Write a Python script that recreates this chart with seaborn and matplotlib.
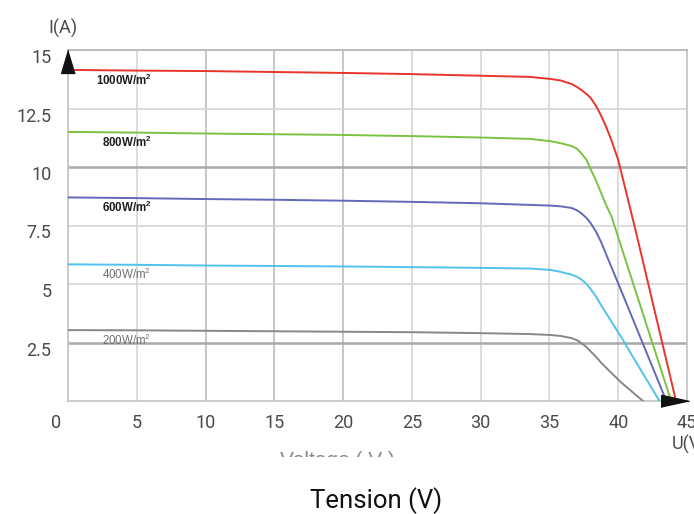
import numpy as np
import pandas as pd
import matplotlib
matplotlib.use("Agg")
import matplotlib.pyplot as plt
import matplotlib.transforms as mtransforms
import seaborn as sns

# ---- data ----
irradiance = ["1000W/m$^2$", "800W/m$^2$", "600W/m$^2$", "400W/m$^2$", "200W/m$^2$"]

v_1000 = [0, 5, 10, 15, 20, 25, 30, 33.6, 35.1, 35.8, 36.6, 37.0, 37.3, 37.7, 38.0, 38.4, 38.75, 39.1, 39.5, 40.0, 41.3, 44.2]
i_1000 = [14.15, 14.12, 14.1, 14.06, 14.02, 13.97, 13.9, 13.85, 13.76, 13.7, 13.55, 13.42, 13.3, 13.12, 12.95, 12.6, 12.2, 11.75, 11.15, 10.3, 7.2, 0]

v_800 = [0, 5, 10, 15, 20, 25, 30, 33.6, 35.1, 35.8, 36.6, 37.0, 37.3, 37.7, 38.0, 38.4, 38.75, 39.1, 39.5, 43.85]
i_800 = [11.5, 11.47, 11.43, 11.4, 11.37, 11.32, 11.26, 11.2, 11.1, 11.02, 10.9, 10.78, 10.6, 10.3, 9.9, 9.4, 8.9, 8.4, 7.9, 0]

v_600 = [0, 5, 10, 15, 20, 25, 30, 33.6, 35.1, 35.8, 36.6, 37.0, 37.3, 37.7, 38.0, 38.4, 38.75, 39.1, 39.5, 40.2, 43.5]
i_600 = [8.7, 8.67, 8.63, 8.6, 8.56, 8.51, 8.45, 8.38, 8.35, 8.32, 8.25, 8.15, 8.03, 7.82, 7.6, 7.22, 6.8, 6.3, 5.73, 4.74, 0]

v_400 = [0, 5, 10, 15, 20, 25, 30, 33.6, 35.1, 35.8, 36.6, 37.0, 37.3, 37.7, 38.0, 38.4, 38.75, 39.5, 40.2, 40.9, 43.0]
i_400 = [5.84, 5.82, 5.79, 5.77, 5.75, 5.72, 5.69, 5.66, 5.6, 5.52, 5.4, 5.31, 5.2, 5.0, 4.78, 4.45, 4.1, 3.4, 2.75, 2.05, 0]

v_200 = [0, 5, 10, 15, 20, 25, 30, 33.6, 35.1, 35.8, 36.6, 37.0, 37.3, 37.7, 38.0, 38.4, 38.75, 39.5, 40.2, 41.8]
i_200 = [3.03, 3.02, 3.0, 2.98, 2.96, 2.94, 2.9, 2.86, 2.82, 2.78, 2.69, 2.6, 2.48, 2.3, 2.12, 1.88, 1.64, 1.2, 0.8, 0]

label_x = [2.0, 2.45, 2.45, 2.45, 2.45]
label_y = [13.68, 11.04, 8.26, 5.43, 2.61]

x_ticks = [0, 5, 10, 15, 20, 25, 30, 35, 40, 45]
y_ticks = [2.5, 5, 7.5, 10, 12.5, 15]
y_tick_labels = ["2.5", "5", "7.5", "10", "12.5", "15"]

colors = ["#e8352b", "#7cc242", "#6468b8", "#4fc3ec", "#8c8586"]
label_colors = ["#1e1e1e", "#1e1e1e", "#1e1e1e", "#707070", "#707070"]

frames = []
for name, v, i in zip(irradiance,
                      [v_1000, v_800, v_600, v_400, v_200],
                      [i_1000, i_800, i_600, i_400, i_200]):
    frames.append(pd.DataFrame({"V": v, "I": i, "G": name}))
df = pd.concat(frames, ignore_index=True)

# ---- figure ----
sns.set_style("white")
plt.rcParams["font.family"] = ["Roboto", "DejaVu Sans"]
plt.rcParams["mathtext.fontset"] = "custom"
plt.rcParams["mathtext.rm"] = "Liberation Sans"
plt.rcParams["mathtext.bf"] = "Liberation Sans:bold"

W, H = 694, 514
fig = plt.figure(figsize=(W / 100, H / 100), dpi=100)
ax = fig.add_axes([68 / W, 1 - 401 / H, (687 - 68) / W, (401 - 50) / H])

sns.lineplot(data=df, x="V", y="I", hue="G", hue_order=irradiance,
             palette=colors, estimator=None, sort=False, legend=False,
             linewidth=1.4, ax=ax, zorder=3)

ax.set_xlim(0, 45)
ax.set_ylim(0, 15)
ax.set_xticks(x_ticks)
ax.set_yticks(y_ticks)
ax.set_yticklabels(y_tick_labels)
ax.set_xlabel("")
ax.set_ylabel("")
ax.tick_params(axis="both", length=0, labelsize=13, labelcolor="#4a4a4a")
ax.tick_params(axis="x", pad=9)
ax.tick_params(axis="y", pad=12)

ax.grid(True, color="#d6d6d6", linewidth=1.2, zorder=0)
ax.set_axisbelow(True)
for s in ax.spines.values():
    s.set_color("#c4c4c4")
    s.set_linewidth(1.2)
ax.spines["top"].set_color("#b4b4b4")

# darker grid lines as in the reference
ygl = ax.get_ygridlines()
for idx in [0, 3]:  # 2.5 and 10
    ygl[idx].set_color("#a9a9a9")
    ygl[idx].set_linewidth(1.8)
xgl = ax.get_xgridlines()
for idx in [2, 3, 4]:
    xgl[idx].set_color("#bdbdbd")

# shift tick labels like the reference
for lab in ax.get_yticklabels():
    lab.set_transform(lab.get_transform() + mtransforms.ScaledTranslation(0, -6 / 100, fig.dpi_scale_trans))
xl = ax.get_xticklabels()
xl[0].set_transform(xl[0].get_transform() + mtransforms.ScaledTranslation(-12 / 100, 0, fig.dpi_scale_trans))

# curve labels
for k, (name, lx, ly) in enumerate(zip(irradiance, label_x, label_y)):
    bold = k < 3
    txt = name.replace("$^2$", "$^\\mathbf{2}$") if bold else name
    ax.text(lx, ly, txt, fontsize=8.3, family=["Liberation Sans", "DejaVu Sans"],
            fontweight="bold" if bold else "normal",
            color=label_colors[k], va="center", ha="left", zorder=4)

# arrow heads on the axes
up = [(0, 0), (-0.3, -1), (0.3, -1)]
right = [(0, 0), (-1, 0.22), (-1, -0.22)]
ax.plot([0], [1], marker=up, markersize=33, color="#111111", transform=ax.transAxes,
        clip_on=False, zorder=6, linestyle="none")
ax.plot([1.004], [0], marker=right, markersize=40, color="#111111", transform=ax.transAxes,
        clip_on=False, zorder=6, linestyle="none")

# axis texts
fig.text(48 / W, 1 - 28 / H, "I(A)", fontsize=13, color="#4a4a4a", ha="left", va="center")
fig.text(672 / W, 1 - 444 / H, "U(V)", fontsize=13, color="#4a4a4a", ha="left", va="center")
t = fig.text(337 / W, 1 - 451 / H, "Voltage ( V )", fontsize=15, color="#888888",
             ha="center", va="top", family=["Liberation Sans", "DejaVu Sans"])
t.set_clip_box(mtransforms.Bbox([[0, H - 457], [W, H - 440]]))
t.set_clip_on(True)
fig.text(376 / W, 1 - 501 / H, "Tension (V)", fontsize=18.5, color="#111111", ha="center", va="center")

fig.savefig("out.png", dpi=100)
